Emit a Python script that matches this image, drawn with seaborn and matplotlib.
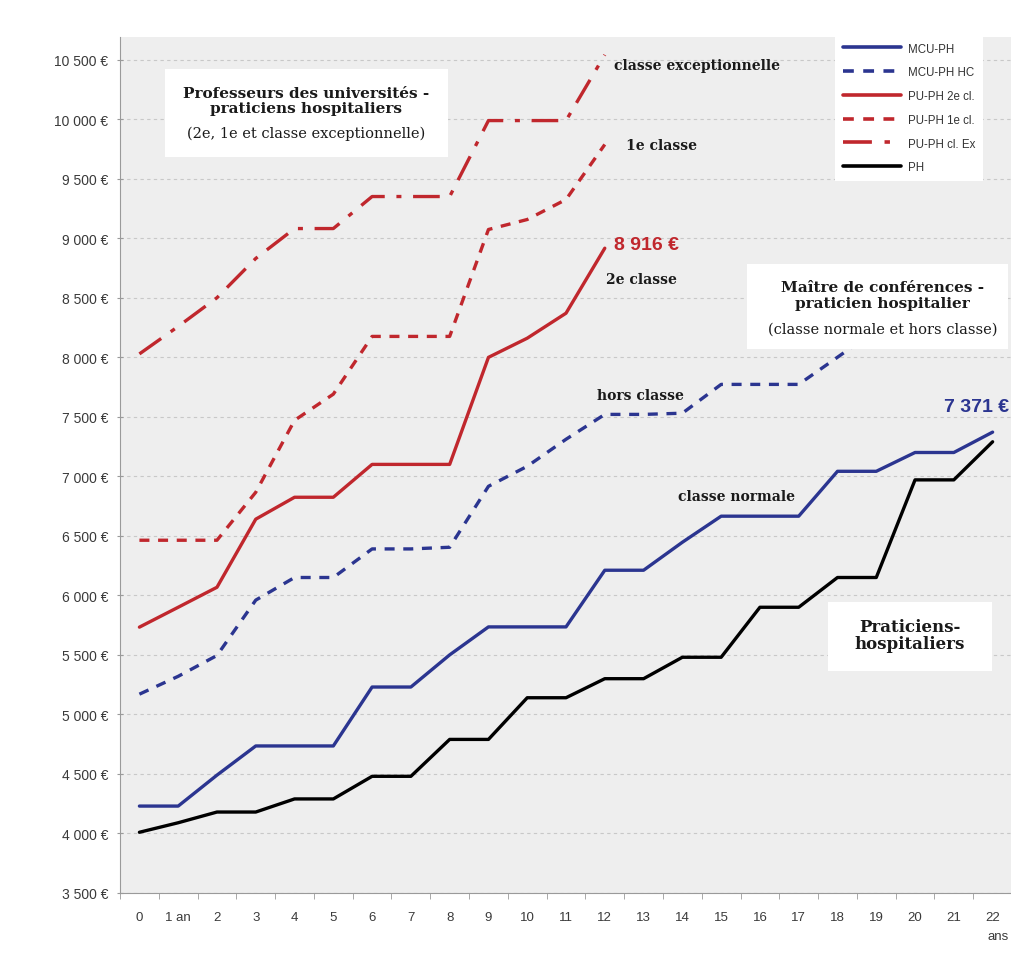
import matplotlib.pyplot as plt
import matplotlib.patches as mpatches
import pandas as pd
import seaborn as sns

# Salary grids (monthly, EUR) by years of seniority
years = list(range(23))
year_labels = ["0", "1 an"] + [str(y) for y in range(2, 23)]

mcu_ph = [4230, 4230, 4490, 4735, 4735, 4735, 5230, 5230, 5500, 5735, 5735, 5735,
          6211, 6211, 6446, 6665, 6665, 6665, 7042, 7042, 7200, 7200, 7371]
mcu_ph_hc = [5170, 5320, 5495, 5960, 6150, 6150, 6390, 6390, 6404, 6916, 7084, 7311,
             7520, 7520, 7530, 7772, 7772, 7772, 8000, 8230, 8230, 8480, 8480]
pu_ph_2e = [5733, 5900, 6068, 6640, 6824, 6824, 7100, 7100, 7100, 7999, 8160, 8370, 8916]
pu_ph_1e = [6463, 6463, 6463, 6866, 7470, 7690, 8175, 8175, 8175, 9073, 9157, 9325, 9787]
pu_ph_ex = [8028, 8259, 8500, 8830, 9081, 9081, 9350, 9350, 9350, 9988, 9988, 9988, 10540]
ph = [4010, 4090, 4180, 4180, 4290, 4290, 4480, 4480, 4790, 4790, 5140, 5140,
      5300, 5300, 5480, 5480, 5900, 5900, 6150, 6150, 6970, 6970, 7290]

series = {
    "MCU-PH": mcu_ph,
    "MCU-PH HC": mcu_ph_hc,
    "PU-PH 2e cl.": pu_ph_2e,
    "PU-PH 1e cl.": pu_ph_1e,
    "PU-PH cl. Ex": pu_ph_ex,
    "PH": ph,
}
order = list(series.keys())

BLUE = "#2b3590"
RED = "#c0272d"
palette = {
    "MCU-PH": BLUE,
    "MCU-PH HC": BLUE,
    "PU-PH 2e cl.": RED,
    "PU-PH 1e cl.": RED,
    "PU-PH cl. Ex": RED,
    "PH": "black",
}
dashes = {
    "MCU-PH": "",
    "MCU-PH HC": (3, 2.6),
    "PU-PH 2e cl.": "",
    "PU-PH 1e cl.": (3, 2.6),
    "PU-PH cl. Ex": (8, 3.5, 1.5, 3.5),
    "PH": "",
}

rows = []
for name, vals in series.items():
    for yr, v in zip(years, vals):
        rows.append({"year": yr, "salary": v, "grade": name})
df = pd.DataFrame(rows)

sns.set_style("white")
plt.rcParams["font.family"] = ["Liberation Sans", "DejaVu Sans"]

fig = plt.figure(figsize=(10.12, 9.62), dpi=100)
ax = fig.add_axes([0.1186, 0.0707, 0.8814, 0.8898])
ax.set_facecolor("#eeeeee")

sns.lineplot(
    data=df,
    x="year",
    y="salary",
    hue="grade",
    style="grade",
    hue_order=order,
    style_order=order,
    palette=palette,
    dashes=dashes,
    linewidth=2.4,
    ax=ax,
    zorder=2,
)

ax.set_xlim(-0.38, 22.37)
ax.set_ylim(3500, 10690)
ax.set_xlabel("")
ax.set_ylabel("")

yticks = list(range(3500, 10501, 500))
ax.set_yticks(yticks)
ax.set_yticklabels([f"{v:,} €".replace(",", " ") for v in yticks])
ax.set_xticks(years)
ax.set_xticklabels(year_labels)
ax.set_xticks([y + 0.5 for y in range(-1, 23)], minor=True)

ax.grid(axis="y", color="#c8c8c8", linestyle=(0, (3, 3)), linewidth=0.8)
ax.grid(axis="x", visible=False)
for s in ["top", "right"]:
    ax.spines[s].set_visible(False)
for s in ["left", "bottom"]:
    ax.spines[s].set_color("#9a9a9a")
    ax.spines[s].set_linewidth(0.8)

ax.tick_params(axis="y", which="major", length=5, direction="inout", color="#9a9a9a",
               labelsize=10, labelcolor="#3a3a3a", pad=6, left=True)
ax.tick_params(axis="x", which="major", length=0, labelsize=9.5, labelcolor="#3a3a3a", pad=13)
ax.tick_params(axis="x", which="minor", length=4, direction="out", color="#9a9a9a", bottom=True)
ax.text(0.984, -0.05, "ans", transform=ax.transAxes, ha="center", va="center",
        fontsize=9.5, color="#3a3a3a")

# Legend
handles, labels = ax.get_legend_handles_labels()
for h in handles:
    h.set_linewidth(2.6)
leg = ax.legend(
    handles, labels,
    loc="upper left", bbox_to_anchor=(0.802, 1.003),
    fontsize=8.3, frameon=True, fancybox=False, framealpha=1,
    facecolor="white", edgecolor="none",
    handlelength=5, handletextpad=0.6, labelspacing=1.02,
    borderpad=0.7, borderaxespad=0,
    labelcolor="#333333",
)
leg.set_zorder(6)

# Annotation boxes
serif = ["DejaVu Serif"]
boxes = [
    (0.0504, 0.8598, 0.3173, 0.1028),
    (0.703, 0.6355, 0.293, 0.0993),
    (0.7937, 0.2593, 0.1839, 0.0807),
]
for x0, y0, w, h in boxes:
    ax.add_patch(mpatches.Rectangle((x0, y0), w, h, transform=ax.transAxes,
                                    facecolor="white", edgecolor="none", zorder=3))

ax.text(0.2085, 0.926, "Professeurs des universités -\npraticiens hospitaliers",
        transform=ax.transAxes, ha="center", va="center", fontsize=11,
        fontweight="bold", family=serif, color="#1a1a1a", linespacing=1.15, zorder=4)
ax.text(0.2085, 0.8885, "(2e, 1e et classe exceptionnelle)", transform=ax.transAxes,
        ha="center", va="center", fontsize=10.5, family=serif, color="#1a1a1a", zorder=4)

ax.text(0.855, 0.6986, "Maître de conférences -\npraticien hospitalier",
        transform=ax.transAxes, ha="center", va="center", fontsize=11,
        fontweight="bold", family=serif, color="#1a1a1a", linespacing=1.15, zorder=4)
ax.text(0.855, 0.6589, "(classe normale et hors classe)", transform=ax.transAxes,
        ha="center", va="center", fontsize=10.5, family=serif, color="#1a1a1a", zorder=4)

ax.text(0.8857, 0.3014, "Praticiens-\nhospitaliers", transform=ax.transAxes,
        ha="center", va="center", fontsize=12, fontweight="bold", family=serif,
        color="#1a1a1a", linespacing=1.05, zorder=4)

# Line labels
label_kw = dict(ha="left", va="center", fontsize=10, fontweight="bold",
                family=serif, color="#1a1a1a", zorder=4)
ax.text(12.24, 10458, "classe exceptionnelle", **label_kw)
ax.text(12.55, 9787, "1e classe", **label_kw)
ax.text(12.04, 8654, "2e classe", **label_kw)
ax.text(11.81, 7680, "hors classe", **label_kw)
ax.text(13.9, 6832, "classe normale", **label_kw)

ax.text(12.24, 8947, f"{pu_ph_2e[-1]:,} €".replace(",", " "), ha="left", va="center",
        fontsize=14, fontweight="bold", color=RED, zorder=4)
ax.text(20.74, 7588, f"{mcu_ph[-1]:,} €".replace(",", " "), ha="left", va="center",
        fontsize=14, fontweight="bold", color=BLUE, zorder=4)

fig.savefig("out.png", dpi=100)
plt.close(fig)
